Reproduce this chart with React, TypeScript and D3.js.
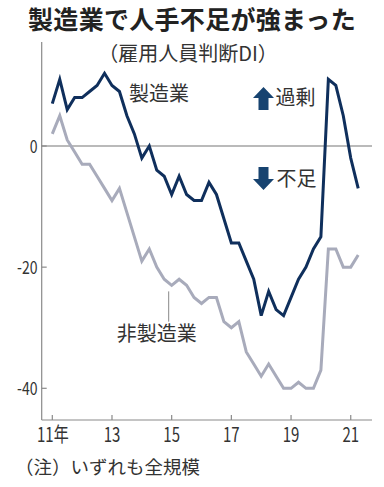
import * as d3 from "d3";

// 日銀短観 雇用人員判断DI（全規模）, 2011年3月調査〜2021年6月調査（四半期）
const manufacturing = [
  7, 11, 6, 8, 8, 9, 10, 12, 10, 9,
  5, 2, -2, 0, -4, -5, -8, -5, -8, -9,
  -9, -6, -8, -12, -16, -16, -19, -22, -28, -24,
  -27, -28, -25, -22, -20, -17, -15, 11, 10, 5,
  -2, -7,
];
const nonManufacturing = [
  2, 5, 1, -1, -3, -3, -5, -7, -9, -7,
  -11, -15, -19, -17, -20, -22, -23, -22, -23, -25,
  -26, -25, -25, -29, -30, -29, -34, -36, -38, -36,
  -38, -40, -40, -39, -40, -40, -37, -17, -17, -20,
  -20, -18,
];
const yearTicks = [11, 13, 15, 17, 19, 21];
const yTicks = [0, -20, -40];

const W = 384;
const H = 487;
const FONT = "'Noto Sans CJK JP', 'Noto Sans', sans-serif";

export default function App() {
  const axisLeft = 41.7;
  const axisRight = 372;
  const axisBottom = 420;
  const axisTop = 42;

  // quarter index -> x
  const x = d3.scaleLinear().domain([0, manufacturing.length - 1]).range([52.3, 358.2]);
  const y = d3.scaleLinear().domain([-40, 0]).range([388.3, 146]);
  const yearX = (yr: number) => x((yr - 11) * 4);

  const line = d3
    .line<number>()
    .x((_, i) => x(i))
    .y((d) => y(d));

  const navy = "#0f2f5c";
  const gray = "#a8abbb";
  const arrowColor = "#174370";
  const axisColor = "#8a8a8a";

  // arrows (過剰 / 不足)
  const ax = 263.5;
  const upTop = 87;
  const downTop = 167;

  return (
    <svg
      width={W}
      height={H}
      viewBox={`0 0 ${W} ${H}`}
      style={{ position: "absolute", left: 0, top: 0, background: "#fff" }}
      fontFamily={FONT}
    >
      {/* タイトル */}
      <text x={192} y={29} textAnchor="middle" fontSize={25} fontWeight="bold" fill="#222" letterSpacing={0.3}>
        製造業で人手不足が強まった
      </text>
      <text x={188} y={61} textAnchor="middle" fontSize={20} fill="#333">
        （雇用人員判断DI）
      </text>

      {/* 軸 */}
      <line x1={axisLeft} x2={axisLeft} y1={axisTop} y2={axisBottom} stroke={axisColor} strokeWidth={1.2} />
      <line x1={axisLeft} x2={axisRight} y1={axisBottom} y2={axisBottom} stroke={axisColor} strokeWidth={1.2} />
      <line x1={axisLeft} x2={axisRight} y1={y(0)} y2={y(0)} stroke="#777" strokeWidth={1.1} />

      {yTicks.map((t) => (
        <g key={t}>
          <line x1={axisLeft} x2={axisLeft + 5} y1={y(t)} y2={y(t)} stroke={axisColor} strokeWidth={1.2} />
          <g transform={`translate(37.5,${y(t) + 6.5}) scale(0.78,1)`}>
            <text textAnchor="end" fontSize={18} fill="#333">
              {t}
            </text>
          </g>
        </g>
      ))}

      {yearTicks.map((yr) => (
        <g key={yr}>
          <line x1={yearX(yr)} x2={yearX(yr)} y1={axisBottom - 5} y2={axisBottom} stroke={axisColor} strokeWidth={1.2} />
          <g transform={`translate(${yearX(yr) + (yr === 11 ? 0.5 : 0)},442) scale(0.75,1)`}>
            <text textAnchor="middle" fontSize={20} fill="#333">
              {yr === 11 ? "11年" : yr}
            </text>
          </g>
        </g>
      ))}

      {/* 系列 */}
      <path d={line(nonManufacturing) ?? ""} fill="none" stroke={gray} strokeWidth={3} strokeLinejoin="miter" />
      <path d={line(manufacturing) ?? ""} fill="none" stroke={navy} strokeWidth={3} strokeLinejoin="miter" />

      {/* ラベル */}
      <text x={129} y={101} fontSize={20} fill="#333">
        製造業
      </text>
      <line x1={x(15.6)} x2={x(15.6)} y1={y(-24)} y2={y(-29)} stroke="#888" strokeWidth={1} />
      <text x={156.7} y={341} textAnchor="middle" fontSize={20} fill="#333">
        非製造業
      </text>

      {/* 過剰 */}
      <path
        d={`M${ax},${upTop} L${ax + 10.5},${upTop + 11} L${ax + 5},${upTop + 11} L${ax + 5},${upTop + 23} L${ax - 5},${upTop + 23} L${ax - 5},${upTop + 11} L${ax - 10.5},${upTop + 11} Z`}
        fill={arrowColor}
      />
      <text x={275.5} y={105} fontSize={20} fill="#333">
        過剰
      </text>
      {/* 不足 */}
      <path
        d={`M${ax - 5},${downTop} L${ax + 5},${downTop} L${ax + 5},${downTop + 12} L${ax + 10.5},${downTop + 12} L${ax},${downTop + 23} L${ax - 10.5},${downTop + 12} L${ax - 5},${downTop + 12} Z`}
        fill={arrowColor}
      />
      <text x={276.5} y={186} fontSize={20} fill="#333">
        不足
      </text>

      {/* 注 */}
      <text x={15} y={474} fontSize={18.5} fill="#333">
        （注）いずれも全規模
      </text>
    </svg>
  );
}
